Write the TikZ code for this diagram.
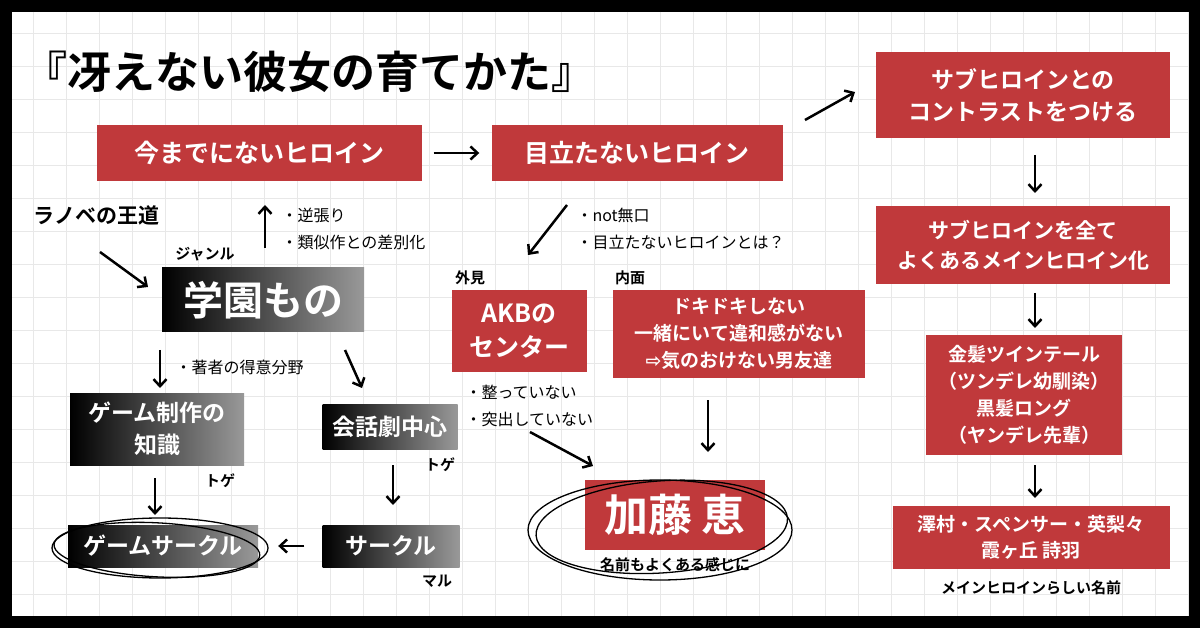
\documentclass[tikz,border=0pt]{standalone}
\usepackage{fontspec}
\setmainfont{Noto Sans CJK JP}[BoldFont={Noto Sans CJK JP Bold}]
\newfontfamily\symfont{DejaVu Sans}
\usetikzlibrary{arrows.meta,positioning}
\definecolor{heroinered}{HTML}{C0393B}

\tikzset{
  redbox/.style={fill=heroinered, text=white, font=\bfseries\fontsize{25}{30}\selectfont, align=center, inner sep=6pt, minimum height=56pt},
  darkbox/.style={left color=black, right color=black!40, text=white, font=\bfseries\fontsize{23}{32}\selectfont, align=center, inner sep=6pt},
  note/.style={font=\fontsize{16}{27}\selectfont, align=left, anchor=west},
  tag/.style={font=\bfseries\fontsize{15}{18}\selectfont},
  arr/.style={-{Straight Barb[length=7pt,width=13pt]}, line width=2.5pt}
}

\begin{document}
\begin{tikzpicture}[x=1pt,y=-1pt]
  \fill[black] (0,0) rectangle (1200,628);
  \fill[white] (12,12) rectangle (1188,616);
  \foreach \gx in {33,66,...,1188} \draw[black!9, line width=0.8pt] (\gx,12) -- (\gx,616);
  \foreach \gy in {33,66,...,616} \draw[black!9, line width=0.8pt] (12,\gy) -- (1188,\gy);
  \useasboundingbox (0,0) rectangle (1200,628);

  % title
  \node[anchor=west, font=\bfseries\fontsize{44}{50}\selectfont] (title) at (20,72) {『冴えない彼女の育てかた』};

  % top row
  \node[redbox, minimum width=325pt] (ima) at (259,153) {今までにないヒロイン};
  \node[redbox, minimum width=291pt] (medatanai) at (637,153) {目立たないヒロイン};
  \draw[arr] ([xshift=12pt]ima.east) -- ([xshift=-12pt]medatanai.west);

  % right column
  \node[redbox, minimum width=294pt, minimum height=86pt, font=\bfseries\fontsize{23}{32}\selectfont] (contrast) at (1023,95) {サブヒロインとの\\コントラストをつける};
  \node[redbox, minimum width=294pt, minimum height=78pt, font=\bfseries\fontsize{21}{30}\selectfont] (sub) at (1023,245) {サブヒロインを全て\\よくあるメインヒロイン化};
  \node[redbox, minimum width=196pt, minimum height=120pt, font=\bfseries\fontsize{19}{27}\selectfont] (kinpatsu) at (1024,395) {金髪ツインテール\\（ツンデレ幼馴染）\\黒髪ロング\\（ヤンデレ先輩）};
  \node[redbox, minimum width=277pt, minimum height=63pt, font=\bfseries\fontsize{19}{26}\selectfont] (names) at (1031,537) {澤村・スペンサー・英梨々\\霞ヶ丘 詩羽};
  \node[tag, below=8pt of names] (namenote) {メインヒロインらしい名前};
  \coordinate (c1) at (805,120);
  \coordinate (c2) at (855,92);
  \coordinate (c3) at (1035,155);
  \coordinate (c4) at (1035,193);
  \coordinate (c5) at (1035,293);
  \coordinate (c6) at (1035,328);
  \coordinate (c7) at (1035,465);
  \coordinate (c8) at (1035,498);
  \draw[arr] (c1) -- (c2);
  \draw[arr] (c3) -- (c4);
  \draw[arr] (c5) -- (c6);
  \draw[arr] (c7) -- (c8);

  % left part
  \node[anchor=west, font=\bfseries\fontsize{21}{24}\selectfont] (ranobe) at (30,215) {ラノベの王道};
  \node[tag] (genre) at (205,254) {ジャンル};
  \node[darkbox, minimum width=202pt, minimum height=64pt, font=\bfseries\fontsize{40}{44}\selectfont] (gakuen) at (263,300) {学園もの};
  \coordinate (g1) at (100,252);
  \coordinate (g2) at (148,287);
  \coordinate (g3) at (265,248);
  \coordinate (g4) at (265,205);
  \draw[arr] (g1) -- (g2);
  \draw[arr] (g3) -- (g4);
  \node[note] (gyaku) at (278,229) {・逆張り\\・類似作との差別化};

  \node[darkbox, minimum width=174pt, minimum height=72pt] (game) at (157,429) {ゲーム制作の\\知識};
  \node[darkbox, minimum width=135pt, minimum height=45pt] (kaiwa) at (390,427) {会話劇中心};
  \node[note] (tokui) at (172,367) {・著者の得意分野};
  \coordinate (g5) at (160,350);
  \coordinate (g6) at (160,388);
  \coordinate (g7) at (345,350);
  \coordinate (g8) at (362,388);
  \draw[arr] (g5) -- (g6);
  \draw[arr] (g7) -- (g8);
  \node[tag] (toge1) at (220,481) {トゲ};
  \node[tag] (toge2) at (440,465) {トゲ};

  \node[darkbox, minimum width=190pt, minimum height=42pt] (gamecircle) at (163,546) {ゲームサークル};
  \node[darkbox, minimum width=137pt, minimum height=42pt] (circle) at (391,546) {サークル};
  \node[tag] (maru) at (437,581) {マル};
  \coordinate (g9) at (155,478);
  \coordinate (g10) at (155,515);
  \coordinate (g11) at (393,465);
  \coordinate (g12) at (393,505);
  \draw[arr] (g9) -- (g10);
  \draw[arr] (g11) -- (g12);
  \draw[arr] ([xshift=-18pt]circle.west) -- ([xshift=20pt]gamecircle.east);
  \draw[line width=1.3pt] (160,548) ellipse [x radius=108, y radius=30];
  \draw[line width=1.3pt, rotate around={-3:(160,548)}] (157,550) ellipse [x radius=103, y radius=27];

  % middle part
  \coordinate (m1) at (567,205);
  \coordinate (m2) at (528,255);
  \draw[arr] (m1) -- (m2);
  \node[note] (notmukuchi) at (573,229) {・not無口\\・目立たないヒロインとは？};
  \node[tag] (gaiken) at (470,278) {外見};
  \node[tag] (naimen) at (630,278) {内面};
  \node[redbox, minimum width=135pt, minimum height=82pt, font=\bfseries\fontsize{25}{34}\selectfont] (akb) at (519,331) {AKBの\\センター};
  \node[redbox, minimum width=252pt, minimum height=88pt, font=\bfseries\fontsize{19}{27}\selectfont] (naka) at (739,334) {ドキドキしない\\一緒にいて違和感がない\\{\symfont ⇨}気のおけない男友達};
  \node[note] (totonou) at (462,406) {・整っていない\\・突出していない};
  \node[redbox, minimum width=180pt, minimum height=70pt, font=\bfseries\fontsize{44}{48}\selectfont] (kato) at (675,515) {加藤 恵};
  \node[tag, below=4pt of kato] (katonote) {名前もよくある感じに};
  \coordinate (m3) at (530,432);
  \coordinate (m4) at (593,466);
  \coordinate (m5) at (708,400);
  \coordinate (m6) at (708,452);
  \draw[arr] (m3) -- (m4);
  \draw[arr] (m5) -- (m6);
  \draw[line width=1.3pt] (660,530) ellipse [x radius=132, y radius=50];
  \draw[line width=1.3pt, rotate around={4:(660,530)}] (662,527) ellipse [x radius=126, y radius=46];
\end{tikzpicture}
\end{document}
